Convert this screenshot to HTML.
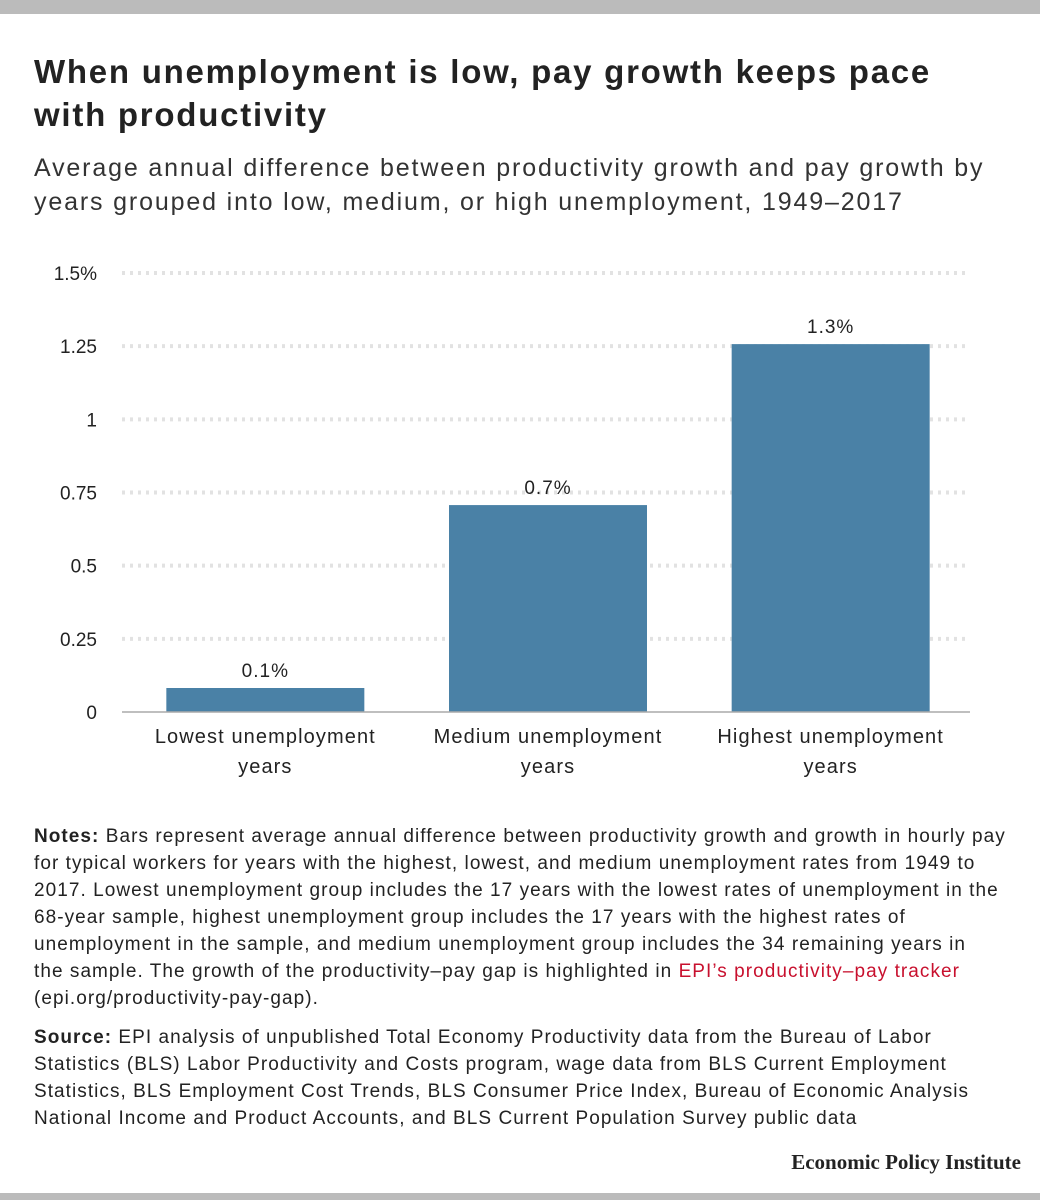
<!DOCTYPE html>
<html><head><meta charset="utf-8"><style>
body{margin:0;width:1040px;height:1200px;background:#fff;position:relative;overflow:hidden;font-family:"Liberation Sans",sans-serif;color:#222}
.abs{position:absolute}
#title{left:34px;top:50px;font-size:33px;font-weight:bold;line-height:43px;color:#222;letter-spacing:1.75px;white-space:nowrap}
#sub{left:34px;top:151px;font-size:25px;line-height:34px;color:#333;letter-spacing:1.85px;white-space:nowrap}
.note{left:34px;font-size:19px;line-height:27px;color:#222;letter-spacing:1.05px;white-space:nowrap}
.note a{color:#c8102e;text-decoration:none}
</style></head><body>
<div class="abs" style="left:0;top:0;width:1040px;height:14px;background:#bbb"></div>
<div id="title" class="abs">When unemployment is low, pay growth keeps pace<br>with productivity</div>
<div id="sub" class="abs">Average annual difference between productivity growth and pay growth by<br>years grouped into low, medium, or high unemployment, 1949–2017</div>
<svg class="abs" style="left:0;top:0" width="1040" height="800" id="chart"></svg>
<div class="abs note" style="top:823px"><b>Notes:</b> Bars represent average annual difference between productivity growth and growth in hourly pay<br>for typical workers for years with the highest, lowest, and medium unemployment rates from 1949 to<br>2017. Lowest unemployment group includes the 17 years with the lowest rates of unemployment in the<br>68-year sample, highest unemployment group includes the 17 years with the highest rates of<br>unemployment in the sample, and medium unemployment group includes the 34 remaining years in<br>the sample. The growth of the productivity–pay gap is highlighted in <a>EPI’s productivity–pay tracker</a><br>(epi.org/productivity-pay-gap).</div>
<div class="abs note" style="top:1024px"><b>Source:</b> EPI analysis of unpublished Total Economy Productivity data from the Bureau of Labor<br>Statistics (BLS) Labor Productivity and Costs program, wage data from BLS Current Employment<br>Statistics, BLS Employment Cost Trends, BLS Consumer Price Index, Bureau of Economic Analysis<br>National Income and Product Accounts, and BLS Current Population Survey public data</div>
<div class="abs" style="right:19px;top:1150px;font-family:'Liberation Serif',serif;font-weight:bold;font-size:21px;color:#222">Economic Policy Institute</div>
<div class="abs" style="left:0;top:1193px;width:1040px;height:7px;background:#bbb"></div>
<script>
const categories=[["Lowest unemployment","years"],["Medium unemployment","years"],["Highest unemployment","years"]];
const values=[0.082,0.707,1.257];
const valueLabels=["0.1%","0.7%","1.3%"];
const ticks=[0,0.25,0.5,0.75,1,1.25,1.5];
const tickLabels=["0","0.25","0.5","0.75","1","1.25","1.5%"];
const svg=document.getElementById('chart');
const NS='http://www.w3.org/2000/svg';
const x0=122,x1=970,yBase=712,yTop=273;
const y=v=>yBase-(v/1.5)*(yBase-yTop);
const band=(x1-x0)/categories.length;
const barW=198;
const bx=i=>x0+2+band*i+(band-barW)/2;
function mk(t,a){const e=document.createElementNS(NS,t);for(const k in a)e.setAttribute(k,a[k]);svg.appendChild(e);return e;}
ticks.forEach((t,i)=>{
  if(t>0){const g=mk('line',{x1:x0,x2:x1,y1:y(t),y2:y(t),stroke:'#e2e2e2','stroke-width':4,'stroke-dasharray':'3 5'});
  
  }
  const l=mk('text',{x:97,y:y(t)+7,'text-anchor':'end','font-size':19,fill:'#222','font-family':'Liberation Sans, sans-serif'});
  l.textContent=tickLabels[i];
  
  
});
values.forEach((v,i)=>{
  const r=mk('rect',{x:bx(i),y:y(v),width:barW,height:yBase-y(v),fill:'#4a81a6'});
  
  
  const t=mk('text',{x:bx(i)+barW/2,y:y(v)-11,'text-anchor':'middle','font-size':19,fill:'#222','font-family':'Liberation Sans, sans-serif','letter-spacing':1});
  t.textContent=valueLabels[i];
  
  
  categories[i].forEach((s,j)=>{
    const c=mk('text',{x:bx(i)+barW/2,y:743+j*30,'text-anchor':'middle','font-size':20,fill:'#222','font-family':'Liberation Sans, sans-serif','letter-spacing':1.1});
    c.textContent=s;
    
    
  });
});
const ax=mk('line',{x1:x0,x2:x1,y1:yBase,y2:yBase,stroke:'#aaa','stroke-width':1.5});


</script>
</body></html>
